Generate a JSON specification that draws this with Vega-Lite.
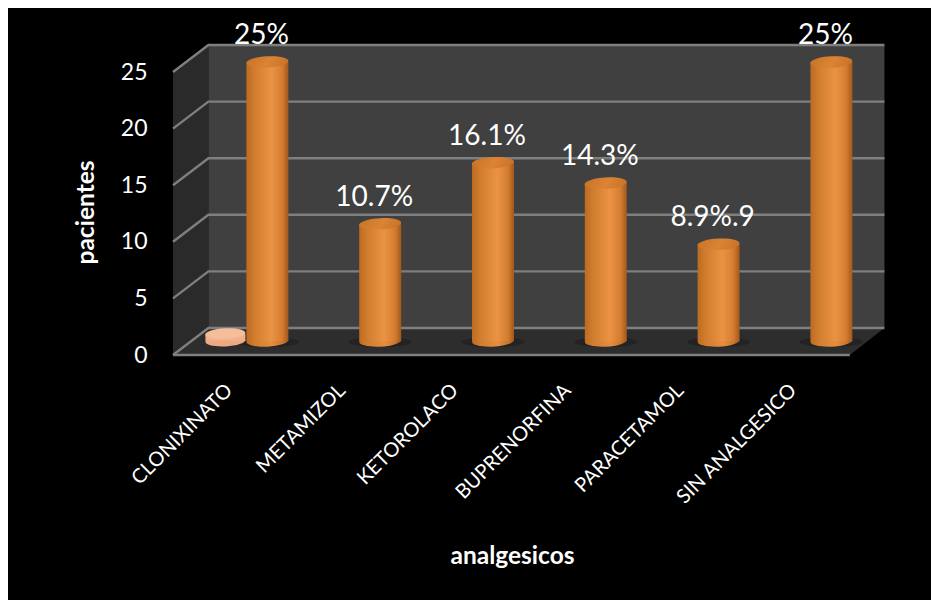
{
  "$schema": "https://vega.github.io/schema/vega-lite/v6.json",
  "width": 923,
  "height": 592,
  "autosize": {"type": "none"},
  "padding": {"left": 8, "top": 8, "right": 0, "bottom": 0},
  "background": "#ffffff",
  "view": {"fill": "#000000", "stroke": null},
  "config": {"font": "Lato"},
  "datasets": {
    "pacientes": [
      {"analgesico": "CLONIXINATO", "valor": 25, "etiqueta": "25%"},
      {"analgesico": "METAMIZOL", "valor": 10.7, "etiqueta": "10.7%"},
      {"analgesico": "KETOROLACO", "valor": 16.1, "etiqueta": "16.1%"},
      {"analgesico": "BUPRENORFINA", "valor": 14.3, "etiqueta": "14.3%"},
      {"analgesico": "PARACETAMOL", "valor": 8.9, "etiqueta": "8.9%.9"},
      {"analgesico": "SIN ANALGESICO", "valor": 25, "etiqueta": "25%"}
    ],
    "serie2": [
      {"analgesico": "CLONIXINATO", "valor": 1}
    ],
    "paredes": [
      {"plano": "izquierda", "pos": 0.5, "v": 25, "v2": 0},
      {"plano": "izquierda", "pos": 0.814, "v": 27.385, "v2": 2.385},
      {"plano": "fondo", "pos": 0.814, "v": 27.385, "v2": 2.385},
      {"plano": "fondo", "pos": 6.807, "v": 27.385, "v2": 2.385},
      {"plano": "suelo", "pos": 0.5, "v": 0, "v2": 0},
      {"plano": "suelo", "pos": 0.814, "v": 2.385, "v2": 0},
      {"plano": "suelo", "pos": 6.5, "v": 2.385, "v2": 0},
      {"plano": "suelo", "pos": 6.807, "v": 2.385, "v2": 2.385}
    ],
    "rejilla": [
      {"linea": "0", "orden": 1, "pos": 0.5, "v": 0},
      {"linea": "0", "orden": 2, "pos": 0.814, "v": 2.385},
      {"linea": "0", "orden": 3, "pos": 6.807, "v": 2.385},
      {"linea": "5", "orden": 1, "pos": 0.5, "v": 5},
      {"linea": "5", "orden": 2, "pos": 0.814, "v": 7.385},
      {"linea": "5", "orden": 3, "pos": 6.807, "v": 7.385},
      {"linea": "10", "orden": 1, "pos": 0.5, "v": 10},
      {"linea": "10", "orden": 2, "pos": 0.814, "v": 12.385},
      {"linea": "10", "orden": 3, "pos": 6.807, "v": 12.385},
      {"linea": "15", "orden": 1, "pos": 0.5, "v": 15},
      {"linea": "15", "orden": 2, "pos": 0.814, "v": 17.385},
      {"linea": "15", "orden": 3, "pos": 6.807, "v": 17.385},
      {"linea": "20", "orden": 1, "pos": 0.5, "v": 20},
      {"linea": "20", "orden": 2, "pos": 0.814, "v": 22.385},
      {"linea": "20", "orden": 3, "pos": 6.807, "v": 22.385},
      {"linea": "25", "orden": 1, "pos": 0.5, "v": 25},
      {"linea": "25", "orden": 2, "pos": 0.814, "v": 27.385},
      {"linea": "25", "orden": 3, "pos": 6.807, "v": 27.385},
      {"linea": "frente", "orden": 1, "pos": 0.5, "v": 0},
      {"linea": "frente", "orden": 2, "pos": 6.5, "v": 0}
    ]
  },
  "resolve": {
    "scale": {"x": "independent"},
    "axis": {"x": "independent", "y": "independent"}
  },
  "layer": [
    {
      "layer": [
        {
          "data": {"name": "paredes"},
          "mark": {"type": "area", "orient": "vertical", "interpolate": "linear"},
          "encoding": {
            "x": {"field": "pos", "type": "quantitative", "axis": null, "scale": {"domain": [0.5, 6.5], "range": [165, 841.8]}},
            "y": {"field": "v", "type": "quantitative", "axis": null, "scale": {"domain": [0, 25], "range": [347, 64]}},
            "y2": {"field": "v2"},
            "color": {
              "field": "plano",
              "type": "nominal",
              "legend": null,
              "scale": {"domain": ["izquierda", "fondo", "suelo"], "range": ["#2a2a2a", "#404040", "#2d2d2d"]}
            }
          }
        },
        {
          "data": {"name": "rejilla"},
          "mark": {"type": "line", "color": "#7f7f7f", "strokeWidth": 2.4, "interpolate": "linear"},
          "encoding": {
            "x": {"field": "pos", "type": "quantitative", "axis": null, "scale": {"domain": [0.5, 6.5], "range": [165, 841.8]}},
            "y": {"field": "v", "type": "quantitative", "axis": null, "scale": {"domain": [0, 25], "range": [347, 64]}},
            "detail": {"field": "linea"},
            "order": {"field": "orden"}
          }
        }
      ]
    },
    {
      "encoding": {
        "x": {
          "field": "analgesico",
          "type": "nominal",
          "sort": null,
          "scale": {
            "domain": ["CLONIXINATO", "METAMIZOL", "KETOROLACO", "BUPRENORFINA", "PARACETAMOL", "SIN ANALGESICO"],
            "range": [165, 841.8],
            "paddingInner": 0,
            "paddingOuter": 0
          },
          "axis": {
            "title": "analgesicos",
            "offset": -245,
            "domain": false,
            "ticks": false,
            "labelAngle": -45,
            "labelAlign": "right",
            "labelBaseline": "middle",
            "labelPadding": 32,
            "labelOffset": 0,
            "labelFontSize": 20,
            "labelColor": "#ffffff",
            "labelFont": "Lato",
            "labelOverlap": false,
            "titleColor": "#ffffff",
            "titleFontSize": 24.5,
            "titleFontWeight": "bold",
            "titleFont": "Lato",
            "titleAnchor": "start",
            "titleAlign": "center",
            "titleBaseline": "middle",
            "titleX": 504,
            "titleY": 201
          }
        },
        "y": {
          "field": "valor",
          "type": "quantitative",
          "stack": null,
          "scale": {"domain": [0, 25], "range": [347, 64]},
          "axis": {
            "title": "pacientes",
            "offset": -165,
            "domain": false,
            "ticks": false,
            "grid": false,
            "values": [0, 5, 10, 15, 20, 25],
            "labelPadding": 26,
            "labelFontSize": 23,
            "labelColor": "#ffffff",
            "labelFont": "Lato",
            "titleColor": "#ffffff",
            "titleFontSize": 24.5,
            "titleFontWeight": "bold",
            "titleFont": "Lato",
            "titleAlign": "center",
            "titleBaseline": "middle",
            "titleAngle": -90,
            "titleX": -87,
            "titleY": 204
          }
        }
      },
      "layer": [
        {
          "data": {"name": "pacientes"},
          "mark": {"type": "point", "filled": true, "opacity": 0.4, "color": "#141414", "shape": "M-1,0A1,0.16,0,1,1,1,0A1,0.16,0,1,1,-1,0Z", "size": 3969, "xOffset": 38, "yOffset": -13},
          "encoding": {"y": {"datum": 0}}
        },
        {
          "data": {"name": "pacientes"},
          "mark": {
            "type": "point",
            "filled": true,
            "opacity": 1,
            "shape": "M-1,0A1,0.27,0,1,1,1,0A1,0.27,0,1,1,-1,0Z",
            "size": 1764,
            "angle": -3,
            "xOffset": 38,
            "yOffset": -14,
            "fill": {"x1": 0, "y1": 0, "x2": 1, "y2": 0, "gradient": "linear", "stops": [
              {"offset": 0, "color": "#bd6a22"},
              {"offset": 0.18, "color": "#d07c2e"},
              {"offset": 0.6, "color": "#e68e40"},
              {"offset": 0.85, "color": "#cc772c"},
              {"offset": 1, "color": "#9e541a"}
            ]}
          },
          "encoding": {"y": {"datum": 0}}
        },
        {
          "data": {"name": "pacientes"},
          "mark": {
            "type": "bar",
            "size": 42,
            "xOffset": 38,
            "yOffset": -10,
            "y2Offset": -14,
            "fill": {"x1": 0, "y1": 0, "x2": 1, "y2": 0, "gradient": "linear", "stops": [
              {"offset": 0, "color": "#bd6a22"},
              {"offset": 0.18, "color": "#d07c2e"},
              {"offset": 0.6, "color": "#eb9344"},
              {"offset": 0.85, "color": "#d47d31"},
              {"offset": 1, "color": "#a3581b"}
            ]}
          },
          "encoding": {"y2": {"datum": 0}}
        },
        {
          "data": {"name": "pacientes"},
          "mark": {
            "type": "point",
            "filled": true,
            "opacity": 1,
            "shape": "M-1,0A1,0.27,0,1,1,1,0A1,0.27,0,1,1,-1,0Z",
            "size": 1764,
            "angle": -3,
            "xOffset": 38,
            "yOffset": -10,
            "fill": {"x1": 0, "y1": 0, "x2": 1, "y2": 0.2, "gradient": "linear", "stops": [
              {"offset": 0, "color": "#c87226"},
              {"offset": 0.6, "color": "#db8435"},
              {"offset": 1, "color": "#cc7429"}
            ]}
          }
        },
        {
          "data": {"name": "serie2"},
          "mark": {
            "type": "point",
            "filled": true,
            "opacity": 1,
            "shape": "M-1,0A1,0.27,0,1,1,1,0A1,0.27,0,1,1,-1,0Z",
            "size": 1600,
            "angle": -3,
            "xOffset": -4,
            "yOffset": -14,
            "color": "#eda982"
          },
          "encoding": {"y": {"datum": 0}}
        },
        {
          "data": {"name": "serie2"},
          "mark": {
            "type": "bar",
            "size": 40,
            "xOffset": -4,
            "yOffset": -10,
            "y2Offset": -14,
            "color": "#f2b08a"
          },
          "encoding": {"y2": {"datum": 0}}
        },
        {
          "data": {"name": "serie2"},
          "mark": {
            "type": "point",
            "filled": true,
            "opacity": 1,
            "shape": "M-1,0A1,0.27,0,1,1,1,0A1,0.27,0,1,1,-1,0Z",
            "size": 1600,
            "angle": -3,
            "xOffset": -4,
            "yOffset": -10,
            "color": "#f6bd9b"
          }
        },
        {
          "data": {"name": "pacientes"},
          "mark": {"type": "text", "color": "#ffffff", "fontSize": 28, "font": "Lato", "baseline": "middle", "align": "center", "xOffset": 32, "yOffset": -36},
          "encoding": {"text": {"field": "etiqueta"}}
        }
      ]
    }
  ]
}
